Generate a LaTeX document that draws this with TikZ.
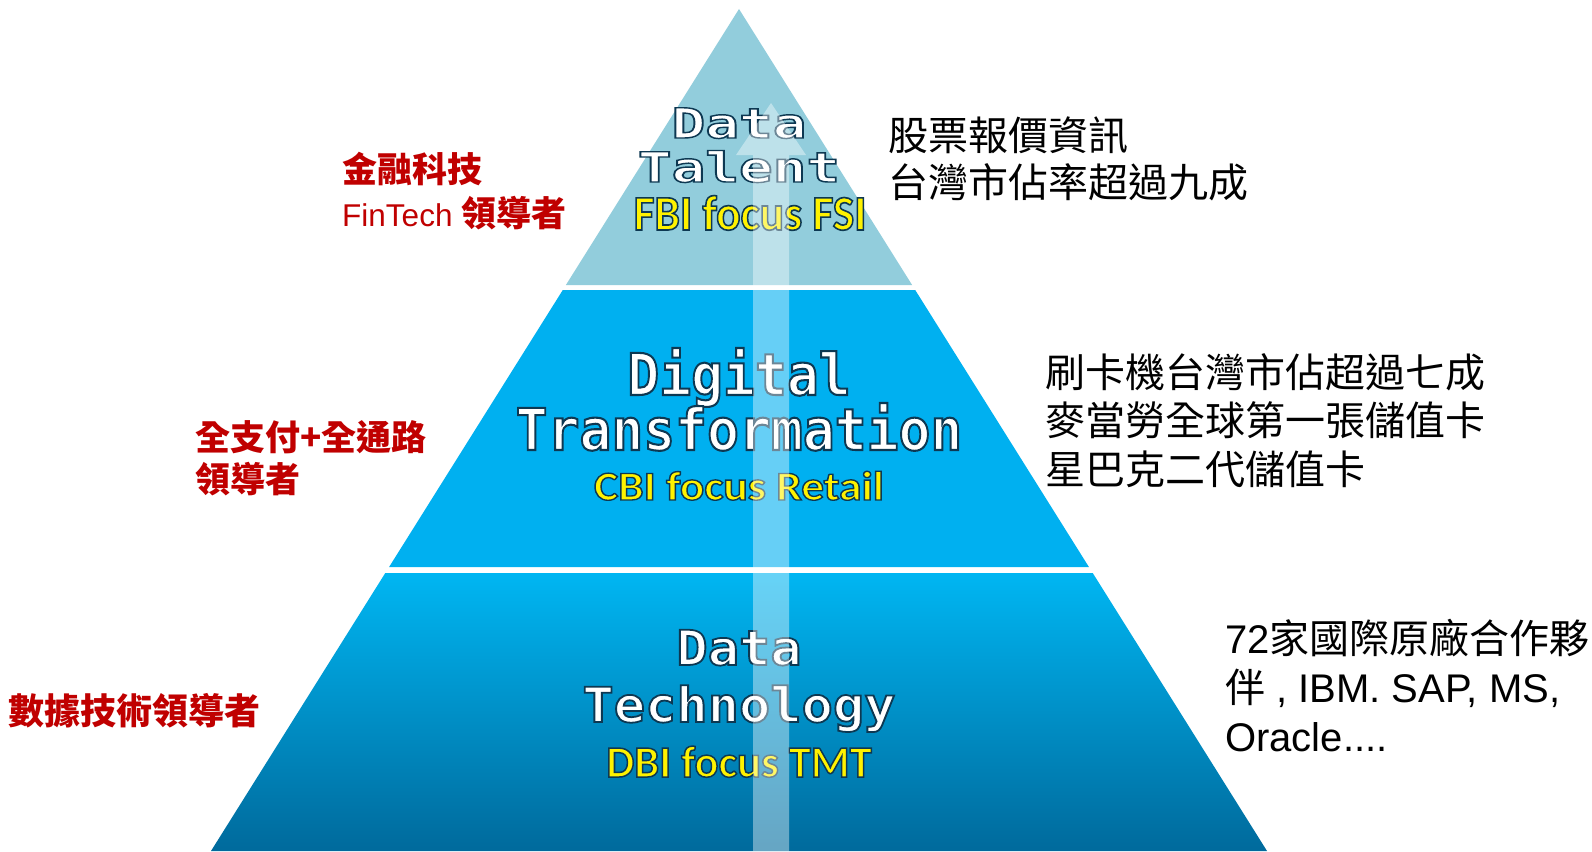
\documentclass[tikz,border=0pt]{standalone}
\usepackage{fontspec}

\newfontfamily\cjk{Noto Sans CJK TC}
\newfontfamily\arial{Liberation Sans}
\newfontfamily\tiermono{DejaVu Sans Mono}
\newfontfamily\calib{Carlito}

\definecolor{tiertop}{RGB}{146,205,220}
\definecolor{tiermid}{RGB}{0,176,240}
\definecolor{tierbotA}{RGB}{0,182,242}
\definecolor{tierbotB}{RGB}{0,106,156}
\definecolor{leadred}{RGB}{192,0,0}

% dark rim round the tier titles (fill + stroke text)
\newcommand\halo[3][1.9]{\scalebox{1}[#2]{\special{pdf:literal direct 2 Tr #1 w 0.05 0.22 0.32 RG}#3\special{pdf:literal direct 0 Tr}}}

\tikzset{
  tiertitle/.style={anchor=base, inner sep=0pt, text=white},
  tierfocus/.style={anchor=base, inner sep=0pt, text=yellow},
  note/.style={anchor=base west, inner sep=0pt, text=black, font=\cjk\fontsize{40}{40}\selectfont},
  lead/.style={anchor=base west, inner sep=0pt, text=leadred, font=\cjk\bfseries\fontsize{35}{35}\selectfont}
}

\begin{document}
\begin{tikzpicture}[x=1pt,y=-1pt]

\fill[white] (0,0) rectangle (1592,851);
\useasboundingbox (0,0) rectangle (1592,851);

% pyramid tiers
\fill[tiertop] (739,9) -- (912.1,285) -- (565.9,285) -- cycle;
\fill[tiermid] (562.8,290) -- (915.2,290) -- (1088.9,567) -- (389.1,567) -- cycle;
\shade[top color=tierbotA, bottom color=tierbotB]
  (385.3,573) -- (1092.7,573) -- (1267,851) -- (211,851) -- cycle;

% tier titles
\begin{scope}[tiertitle/.append style={font=\tiermono\bfseries}]
\node[tiertitle] (talent1) at (739,138) {\fontsize{56}{56}\selectfont\halo{0.74}{Data}};
\node[tiertitle] (talent2) at (739,182) {\fontsize{56}{56}\selectfont\halo{0.74}{Talent}};
\node[tiertitle] (digital1) at (739,395) {\fontsize{53}{53}\selectfont\halo{1.09}{Digital}};
\node[tiertitle] (digital2) at (739,450) {\fontsize{53}{53}\selectfont\halo{1.09}{Transformation}};
\node[tiertitle] (tech1) at (739,665) {\fontsize{52}{52}\selectfont\halo{0.93}{Data}};
\node[tiertitle] (tech2) at (739,722) {\fontsize{52}{52}\selectfont\halo{0.93}{Technology}};
\end{scope}

\begin{scope}[tierfocus/.append style={font=\calib\bfseries}]
\node[tierfocus] (talent3) at (750,230) {\fontsize{45.5}{45.5}\selectfont\halo[1.5]{1.09}{FBI focus FSI}};
\node[tierfocus] (digital3) at (739,500) {\fontsize{45.5}{45.5}\selectfont\halo[1.5]{0.9}{CBI focus Retail}};
\node[tierfocus] (tech3) at (739,777) {\fontsize{44.5}{44.5}\selectfont\halo[1.5]{1.0}{DBI focus TMT}};
\end{scope}

% rising arrow
\fill[white, opacity=0.4] (753,851) -- (753,155) -- (736,155) -- (771,103)
  -- (806,155) -- (789,155) -- (789,851) -- cycle;

% left side
\node[lead] (fin1) at (342,182) {金融科技};
\node[lead] (fin2) at (342,226) {{\arial\mdseries\fontsize{31.5}{31.5}\selectfont FinTech }領導者};
\node[lead] (pay1) at (195,450) {全支付+全通路};
\node[lead] (pay2) at (195,492) {領導者};
\node[lead, font=\cjk\bfseries\fontsize{36}{36}\selectfont] (data1) at (8,724) {數據技術領導者};

% right side
\node[note] (quote1) at (888,150) {股票報價資訊};
\node[note] (quote2) at (888,197) {台灣市佔率超過九成};

\node[note] (card1) at (1045,387) {刷卡機台灣市佔超過七成};
\node[note] (card2) at (1045,435) {麥當勞全球第一張儲值卡};
\node[note] (card3) at (1045,484) {星巴克二代儲值卡};

\node[note] (partner1) at (1225,653) {{\arial 72}家國際原廠合作夥};
\node[note] (partner2) at (1225,702) {伴{\arial\ , IBM. SAP, MS,}};
\node[note] (partner3) at (1225,751) {{\arial Oracle....}};

\end{tikzpicture}
\end{document}
